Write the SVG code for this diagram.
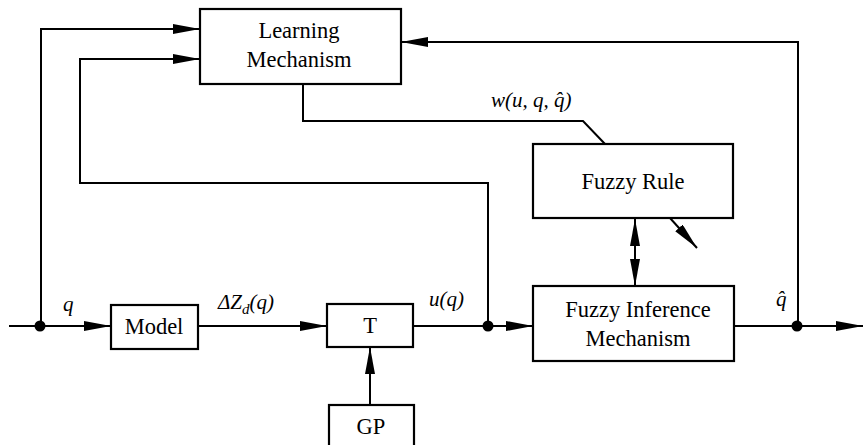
<svg xmlns="http://www.w3.org/2000/svg" width="863" height="445" viewBox="0 0 863 445">
<style>
.box{fill:#fff;stroke:#000;stroke-width:2.2}
.ln{fill:none;stroke:#000;stroke-width:2}
text{font-family:'Liberation Serif','DejaVu Serif','Times New Roman',serif}
.t{font-size:22.5px;fill:#000;text-anchor:middle}
.m{font-size:21px;font-style:italic;fill:#000}
</style>
<defs>
<marker id="ah" markerUnits="userSpaceOnUse" markerWidth="28" markerHeight="11" refX="27" refY="5" orient="auto-start-reverse" viewBox="0 0 28 11">
<path d="M0,0 L27,5 L0,10 z" fill="#000"/>
</marker>
</defs>
<rect width="863" height="445" fill="#fff"/>
<g id="connectors">
<path class="ln" d="M9,326 H111" marker-end="url(#ah)"/>
<path class="ln" d="M41,326 V29 H200" marker-end="url(#ah)"/>
<path class="ln" d="M488,326 V183 H80 V59 H200" marker-end="url(#ah)"/>
<path class="ln" d="M198,326 H327" marker-end="url(#ah)"/>
<path class="ln" d="M413,326 H533" marker-end="url(#ah)"/>
<path class="ln" d="M370,405 V347" marker-end="url(#ah)"/>
<path class="ln" d="M734,326 H863" marker-end="url(#ah)"/>
<path class="ln" d="M798,326 V42 H401" marker-end="url(#ah)"/>
<path class="ln" d="M303,84 V121 H583 L605,144" stroke-linejoin="miter"/>
<path class="ln" d="M635,219 V286" marker-start="url(#ah)" marker-end="url(#ah)"/>
<path class="ln" d="M670,218 L697,248" marker-end="url(#ah)"/>
<circle cx="40" cy="326" r="5.5" fill="#000"/>
<circle cx="488" cy="326" r="5.5" fill="#000"/>
<circle cx="797" cy="326" r="5.5" fill="#000"/>
</g>
<g id="learning">
<rect class="box" x="200" y="9" width="201" height="75"/>
<text class="t" x="299" y="38">Learning</text>
<text class="t" x="299" y="67">Mechanism</text>
</g>
<g id="fuzzyrule">
<rect class="box" x="533" y="144" width="200" height="74"/>
<text class="t" x="633" y="189">Fuzzy Rule</text>
</g>
<g id="fim">
<rect class="box" x="533" y="286" width="201" height="75"/>
<text class="t" x="638" y="317">Fuzzy Inference</text>
<text class="t" x="638" y="346">Mechanism</text>
</g>
<g id="model">
<rect class="box" x="111" y="305" width="87" height="44"/>
<text class="t" x="154" y="334">Model</text>
</g>
<g id="T">
<rect class="box" x="327" y="304" width="86" height="43"/>
<text class="t" x="370" y="333">T</text>
</g>
<g id="GP">
<rect class="box" x="329" y="405" width="85" height="50"/>
<text class="t" x="371" y="434">GP</text>
</g>
<g id="labels">
<text class="m" x="63" y="311">q</text>
<text class="m" x="218" y="309">ΔZ<tspan font-size="15" dy="5">d</tspan><tspan dy="-5">(q)</tspan></text>
<text class="m" x="429" y="306">u(q)</text>
<text class="m" x="776" y="306">q̂</text>
<text class="m" x="491" y="107">w(u, q, q̂)</text>
</g>
</svg>
